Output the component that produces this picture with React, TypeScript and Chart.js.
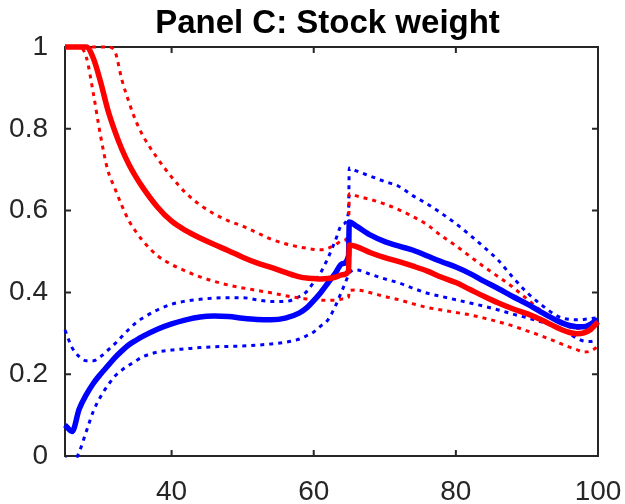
import React, { useEffect, useRef } from "react";
import { Chart, registerables } from "chart.js";

Chart.register(...registerables);

const titleText = "Panel C: Stock weight";

const ages = [25, 26, 27, 28, 29, 30, 31, 32, 33, 34, 35, 36, 38, 40, 42, 44, 46, 48, 50, 52, 54, 56, 58, 59, 60, 61, 62, 63, 64, 64.9, 65, 66, 68, 70, 72, 74, 76, 78, 80, 82, 84, 86, 88, 90, 92, 94, 95, 96, 97, 98, 99, 100];

const redMean = [1, 1, 1, 1, 0.972, 0.915, 0.848, 0.795, 0.75, 0.713, 0.682, 0.655, 0.609, 0.574, 0.551, 0.533, 0.517, 0.502, 0.486, 0.472, 0.461, 0.449, 0.438, 0.435, 0.434, 0.433, 0.434, 0.437, 0.443, 0.452, 0.516, 0.512, 0.497, 0.485, 0.475, 0.464, 0.452, 0.437, 0.424, 0.407, 0.39, 0.374, 0.36, 0.348, 0.333, 0.316, 0.308, 0.302, 0.299, 0.301, 0.31, 0.328];

const redUpper = [1, 1, 1, 1, 1, 1, 1, 0.99, 0.92, 0.865, 0.818, 0.782, 0.728, 0.682, 0.643, 0.614, 0.592, 0.575, 0.562, 0.546, 0.53, 0.519, 0.511, 0.508, 0.505, 0.504, 0.508, 0.516, 0.526, 0.54, 0.641, 0.636, 0.627, 0.616, 0.602, 0.585, 0.565, 0.538, 0.514, 0.488, 0.462, 0.438, 0.413, 0.384, 0.355, 0.333, 0.322, 0.315, 0.312, 0.313, 0.32, 0.33];

const redLower = [1, 1, 1, 0.975, 0.885, 0.783, 0.7, 0.655, 0.612, 0.575, 0.548, 0.525, 0.49, 0.468, 0.452, 0.438, 0.427, 0.418, 0.411, 0.405, 0.399, 0.392, 0.386, 0.384, 0.382, 0.381, 0.381, 0.381, 0.384, 0.388, 0.405, 0.406, 0.399, 0.39, 0.382, 0.372, 0.363, 0.357, 0.351, 0.345, 0.337, 0.328, 0.318, 0.306, 0.294, 0.28, 0.273, 0.266, 0.26, 0.254, 0.257, 0.268];

const blueMean = [0.076, 0.06, 0.115, 0.15, 0.178, 0.2, 0.22, 0.24, 0.257, 0.272, 0.283, 0.293, 0.31, 0.323, 0.333, 0.34, 0.342, 0.341, 0.337, 0.334, 0.333, 0.337, 0.35, 0.362, 0.38, 0.4, 0.423, 0.446, 0.47, 0.49, 0.572, 0.562, 0.54, 0.524, 0.513, 0.503, 0.489, 0.475, 0.462, 0.446, 0.427, 0.409, 0.39, 0.372, 0.352, 0.333, 0.325, 0.319, 0.316, 0.316, 0.323, 0.333];

const blueUpper = [0.308, 0.265, 0.243, 0.233, 0.233, 0.243, 0.258, 0.274, 0.292, 0.31, 0.326, 0.338, 0.357, 0.371, 0.379, 0.383, 0.386, 0.387, 0.387, 0.382, 0.378, 0.378, 0.39, 0.402, 0.425, 0.449, 0.484, 0.525, 0.566, 0.596, 0.704, 0.697, 0.684, 0.671, 0.659, 0.636, 0.616, 0.593, 0.568, 0.54, 0.51, 0.478, 0.437, 0.4, 0.37, 0.345, 0.337, 0.334, 0.333, 0.334, 0.336, 0.338];

const blueLower = [-0.005, -0.02, 0.01, 0.06, 0.11, 0.145, 0.172, 0.195, 0.21, 0.222, 0.233, 0.243, 0.254, 0.259, 0.262, 0.265, 0.267, 0.268, 0.269, 0.271, 0.274, 0.278, 0.286, 0.294, 0.303, 0.318, 0.333, 0.365, 0.405, 0.443, 0.447, 0.455, 0.444, 0.433, 0.423, 0.41, 0.398, 0.39, 0.382, 0.374, 0.366, 0.357, 0.347, 0.338, 0.328, 0.318, 0.31, 0.298, 0.288, 0.281, 0.28, 0.284];

const xTicks = [40, 60, 80, 100];
const yTicks = [0, 0.2, 0.4, 0.6, 0.8, 1];

const RED = "#ff0000";
const BLUE = "#0000ff";
const AXIS = "#262626";
const FONT = "'Liberation Sans', Arial, sans-serif";

const toPoints = (arr: number[]) => arr.map((y, i) => ({ x: ages[i], y }));

const boxPlugin = {
  id: "matlabBox",
  beforeDatasetsDraw(chart: any) {
    const { ctx, chartArea: a, scales } = chart;
    ctx.save();
    ctx.strokeStyle = AXIS;
    ctx.lineWidth = 2;
    ctx.strokeRect(a.left, a.top, a.right - a.left, a.bottom - a.top);
    const tl = 6;
    ctx.beginPath();
    for (const v of xTicks) {
      const px = scales.x.getPixelForValue(v);
      ctx.moveTo(px, a.bottom);
      ctx.lineTo(px, a.bottom - tl);
      ctx.moveTo(px, a.top);
      ctx.lineTo(px, a.top + tl);
    }
    for (const v of yTicks) {
      const py = scales.y.getPixelForValue(v);
      ctx.moveTo(a.left, py);
      ctx.lineTo(a.left + tl, py);
      ctx.moveTo(a.right, py);
      ctx.lineTo(a.right - tl, py);
    }
    ctx.stroke();
    ctx.restore();
  },
  afterDraw(chart: any) {
    const { ctx, chartArea: a } = chart;
    ctx.save();
    ctx.fillStyle = "#000000";
    ctx.font = `bold 33px ${FONT}`;
    ctx.textAlign = "center";
    ctx.textBaseline = "alphabetic";
    ctx.fillText(titleText, (a.left + a.right) / 2 - 4, 33);
    ctx.restore();
  },
};

export default function App() {
  const ref = useRef<HTMLCanvasElement | null>(null);
  useEffect(() => {
    if (!ref.current) return;
    const clip = { left: 4, top: 4, right: 4, bottom: 2 };
    const solid = (data: number[], color: string) => ({
      data: toPoints(data),
      borderColor: color,
      backgroundColor: color,
      borderWidth: 5.5,
      pointRadius: 0,
      cubicInterpolationMode: "monotone" as const,
      clip,
    });
    const dotted = (data: number[], color: string) => ({
      data: toPoints(data),
      borderColor: color,
      backgroundColor: color,
      borderWidth: 3,
      borderDash: [4, 5],
      pointRadius: 0,
      cubicInterpolationMode: "monotone" as const,
      clip,
    });
    const chart = new Chart(ref.current, {
      type: "line",
      data: {
        datasets: [
          solid(redMean, RED),
          solid(blueMean, BLUE),
          dotted(redUpper, RED),
          dotted(redLower, RED),
          dotted(blueUpper, BLUE),
          dotted(blueLower, BLUE),
        ] as any,
      },
      options: {
        animation: false,
        responsive: false,
        layout: { padding: { top: 47, right: 27, left: 0, bottom: 0 } },
        plugins: { legend: { display: false }, tooltip: { enabled: false }, title: { display: false } },
        scales: {
          x: {
            type: "linear",
            min: 25,
            max: 100,
            grid: { display: false, drawTicks: false },
            border: { display: false },
            afterBuildTicks: (s: any) => { s.ticks = xTicks.map((v) => ({ value: v })); },
            afterFit: (s: any) => { s.height = 48; s.paddingLeft = 0; s.paddingRight = 0; },
            ticks: { color: AXIS, font: { family: FONT, size: 28 }, padding: 19, maxRotation: 0, autoSkip: false, callback: (v: any) => String(v) },
          },
          y: {
            type: "linear",
            min: 0,
            max: 1,
            grid: { display: false, drawTicks: false },
            border: { display: false },
            afterBuildTicks: (s: any) => { s.ticks = yTicks.map((v) => ({ value: v })); },
            afterFit: (s: any) => { s.width = 65; s.paddingTop = 0; s.paddingBottom = 0; },
            ticks: { color: AXIS, font: { family: FONT, size: 28 }, padding: 17, autoSkip: false, callback: (v: any) => String(Number(v)) },
          },
        },
      },
      plugins: [boxPlugin],
    });
    return () => chart.destroy();
  }, []);
  return (
    <div style={{ position: "fixed", left: 0, top: 0, width: 625, height: 504, background: "#fff" }}>
      <canvas ref={ref} width={625} height={504} />
    </div>
  );
}
